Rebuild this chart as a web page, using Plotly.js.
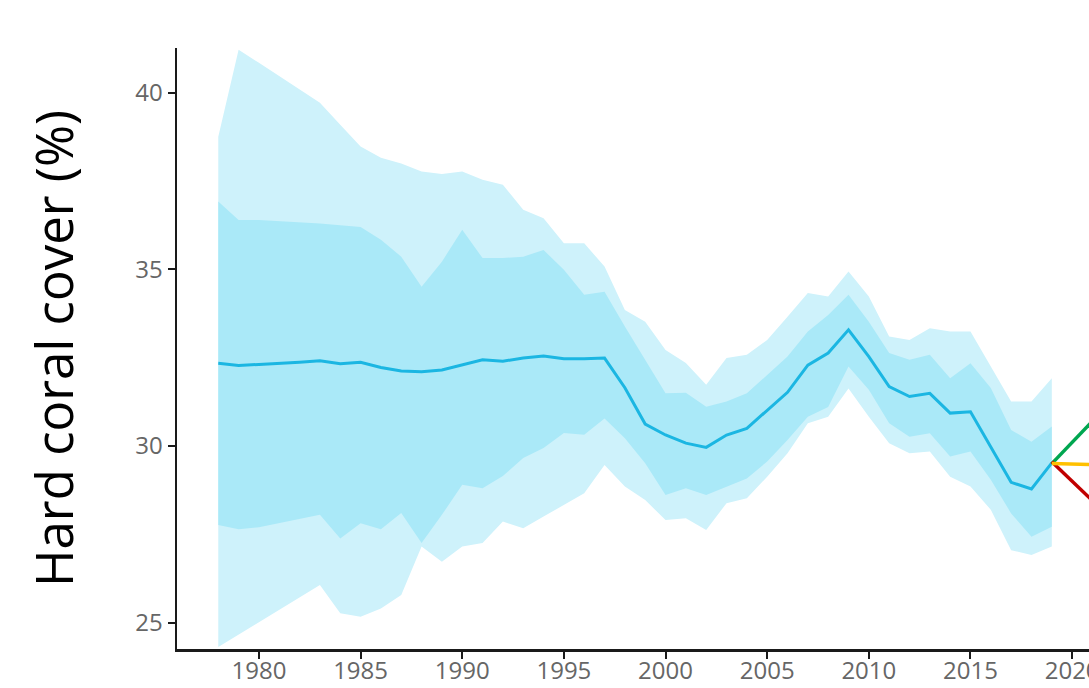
<!DOCTYPE html>
<html>
<head>
<meta charset="utf-8">
<script src="https://cdn.plot.ly/plotly-3.0.1.min.js"></script>
<style>
  html, body { margin: 0; padding: 0; background: #ffffff; }
  #chart { width: 1089px; height: 688px; }
</style>
</head>
<body>
<div id="chart"></div>
<script>
const years = [1978,1979,1980,1981,1982,1983,1984,1985,1986,1987,1988,1989,1990,1991,1992,1993,1994,1995,1996,1997,1998,1999,2000,2001,2002,2003,2004,2005,2006,2007,2008,2009,2010,2011,2012,2013,2014,2015,2016,2017,2018,2019];

const meanCover = [32.34,32.28,32.31,32.33,32.37,32.41,32.33,32.37,32.22,32.12,32.10,32.15,32.29,32.44,32.40,32.49,32.55,32.47,32.47,32.49,31.65,30.62,30.31,30.08,29.96,30.31,30.50,31.02,31.52,32.29,32.63,33.29,32.53,31.68,31.40,31.49,30.93,30.97,29.98,28.97,28.78,29.52];

const innerUpper = [36.92,36.40,36.40,36.37,36.33,36.30,36.25,36.20,35.84,35.36,34.51,35.22,36.12,35.32,35.32,35.36,35.55,34.99,34.28,34.37,33.38,32.44,31.49,31.51,31.11,31.26,31.49,32.01,32.53,33.24,33.71,34.28,33.52,32.63,32.44,32.58,31.92,32.34,31.64,30.45,30.12,30.55];

const innerLower = [27.76,27.64,27.70,27.81,27.92,28.05,27.38,27.81,27.64,28.10,27.25,28.05,28.90,28.80,29.15,29.66,29.94,30.37,30.32,30.78,30.22,29.51,28.61,28.80,28.61,28.85,29.08,29.56,30.17,30.83,31.10,32.25,31.59,30.64,30.26,30.36,29.70,29.84,29.04,28.09,27.43,27.71];

const outerUpper = [38.76,41.22,40.85,40.47,40.10,39.72,39.10,38.48,38.16,38.00,37.77,37.70,37.77,37.54,37.40,36.69,36.45,35.74,35.74,35.08,33.85,33.52,32.72,32.35,31.73,32.49,32.58,33.00,33.66,34.33,34.23,34.94,34.23,33.10,33.00,33.33,33.24,33.24,32.25,31.26,31.26,31.92];

const outerLower = [24.31,24.66,25.01,25.36,25.71,26.06,25.26,25.16,25.40,25.78,27.15,26.72,27.15,27.25,27.86,27.67,28.00,28.33,28.66,29.46,28.85,28.47,27.90,27.95,27.62,28.38,28.52,29.13,29.79,30.64,30.83,31.63,30.83,30.08,29.79,29.84,29.13,28.85,28.19,27.05,26.91,27.15];

const projYears = [2019, 2021];
const projGood = [29.5, 30.7];
const projFlat = [29.5, 29.47];
const projBad = [29.55, 28.45];

const xTicks = [1980,1985,1990,1995,2000,2005,2010,2015,2020];
const yTicks = [25,30,35,40];

const outerColor = 'rgb(206,242,251)';
const innerColor = 'rgb(170,233,248)';
const lineColor = 'rgb(27,182,226)';

const traces = [
  {x: years, y: outerLower, type: 'scatter', mode: 'lines', line: {width: 0, color: outerColor}, hoverinfo: 'skip', showlegend: false},
  {x: years, y: outerUpper, type: 'scatter', mode: 'lines', line: {width: 0, color: outerColor}, fill: 'tonexty', fillcolor: outerColor, hoverinfo: 'skip', showlegend: false},
  {x: years, y: innerLower, type: 'scatter', mode: 'lines', line: {width: 0, color: innerColor}, hoverinfo: 'skip', showlegend: false},
  {x: years, y: innerUpper, type: 'scatter', mode: 'lines', line: {width: 0, color: innerColor}, fill: 'tonexty', fillcolor: innerColor, hoverinfo: 'skip', showlegend: false},
  {x: years, y: meanCover, type: 'scatter', mode: 'lines', line: {width: 3, color: lineColor}, showlegend: false},
  {x: projYears, y: projGood, type: 'scatter', mode: 'lines', line: {width: 3.5, color: 'rgb(0,166,80)'}, showlegend: false},
  {x: projYears, y: projBad, type: 'scatter', mode: 'lines', line: {width: 3.5, color: 'rgb(192,0,0)'}, showlegend: false},
  {x: projYears, y: projFlat, type: 'scatter', mode: 'lines', line: {width: 3.5, color: 'rgb(255,192,0)'}, showlegend: false}
];

const layout = {
  width: 1089,
  height: 688,
  margin: {l: 177, r: 0, t: 48, b: 39},
  paper_bgcolor: '#ffffff',
  plot_bgcolor: '#ffffff',
  showlegend: false,
  font: {family: '"Open Sans", sans-serif'},
  xaxis: {
    range: [1975.97, 2020.83],
    tickmode: 'array',
    tickvals: xTicks,
    ticktext: xTicks.map(String),
    showgrid: false,
    zeroline: false,
    showline: true,
    linecolor: '#1a1a1a',
    linewidth: 2.5,
    ticks: 'outside',
    ticklen: 7,
    tickwidth: 2,
    tickcolor: '#1a1a1a',
    ticklabelstandoff: -8,
    ticklabeloverflow: 'allow',
    tickfont: {family: '"Open Sans", sans-serif', size: 24, color: '#666666'},
    automargin: false,
    fixedrange: true
  },
  yaxis: {
    range: [24.25, 41.27],
    tickmode: 'array',
    tickvals: yTicks,
    ticktext: yTicks.map(String),
    showgrid: false,
    zeroline: false,
    showline: true,
    linecolor: '#1a1a1a',
    linewidth: 2.5,
    ticks: 'outside',
    ticklen: 7,
    tickwidth: 2,
    tickcolor: '#1a1a1a',
    tickfont: {family: '"Open Sans", sans-serif', size: 24, color: '#666666'},
    title: {text: 'Hard coral cover (%)', font: {family: '"Open Sans", sans-serif', size: 51, color: '#000000'}, standoff: 46},
    automargin: false,
    fixedrange: true
  }
};

Plotly.newPlot('chart', traces, layout, {displayModeBar: false, staticPlot: true});
</script>
</body>
</html>
